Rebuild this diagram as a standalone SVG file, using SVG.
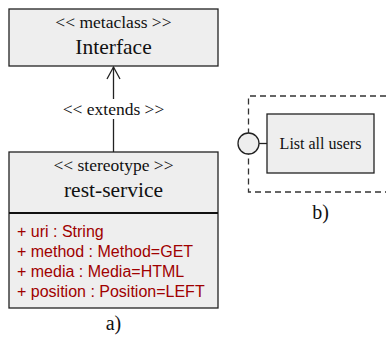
<svg xmlns="http://www.w3.org/2000/svg" width="386" height="340" viewBox="0 0 386 340">
<style>
.box{fill:#eeeeee;stroke:#222;stroke-width:1.3}
.serif{font-family:"Liberation Serif","Times New Roman",serif;fill:#111}
.attr{font-family:"Liberation Sans",Arial,sans-serif;font-size:16px;fill:#a00000}
.line{stroke:#222;stroke-width:1.3;fill:none}
</style>
<rect width="386" height="340" fill="#fff"/>
<g id="connectors">
<line class="line" x1="113.5" y1="152" x2="113.5" y2="67"/>
<polyline class="line" points="107,79 113.5,67 120,79"/>
<rect x="60" y="99" width="108" height="20" fill="#fff"/>
<text class="serif" x="113.5" y="115" font-size="17.5" text-anchor="middle">&lt;&lt; extends &gt;&gt;</text>
<line class="line" x1="259" y1="143.5" x2="267" y2="143.5"/>
</g>
<g id="interface">
<rect class="box" x="9" y="9" width="209" height="57"/>
<text class="serif" x="113.5" y="27.5" font-size="17.5" text-anchor="middle">&lt;&lt; metaclass &gt;&gt;</text>
<text class="serif" x="113.5" y="53.5" font-size="21.5" text-anchor="middle">Interface</text>
</g>
<g id="rest-service">
<rect class="box" x="9" y="152" width="209" height="156"/>
<line x1="9" y1="213" x2="218" y2="213" stroke="#111" stroke-width="2"/>
<text class="serif" x="113.5" y="171" font-size="17.5" text-anchor="middle">&lt;&lt; stereotype &gt;&gt;</text>
<text class="serif" x="113.5" y="197" font-size="21.5" text-anchor="middle">rest-service</text>
<text class="attr" x="17" y="237">+ uri : String</text>
<text class="attr" x="17" y="256.5">+ method : Method=GET</text>
<text class="attr" x="17" y="276.5">+ media : Media=HTML</text>
<text class="attr" x="17" y="296.5">+ position : Position=LEFT</text>
</g>
<text class="serif" x="113.5" y="330" font-size="20" text-anchor="middle">a)</text>
<g id="component">
<path d="M386,96 H248.5 V192 H386" fill="none" stroke="#333" stroke-width="1.3" stroke-dasharray="6,4"/>
<rect class="box" x="267" y="114" width="107" height="59"/>
<text class="serif" x="320.5" y="149" font-size="16" text-anchor="middle">List all users</text>
</g>
<g id="port">
<circle cx="248.5" cy="143.5" r="10.5" fill="#eeeeee" stroke="#222" stroke-width="1.3"/>
</g>
<text class="serif" x="320.5" y="219" font-size="20" text-anchor="middle">b)</text>
</svg>
